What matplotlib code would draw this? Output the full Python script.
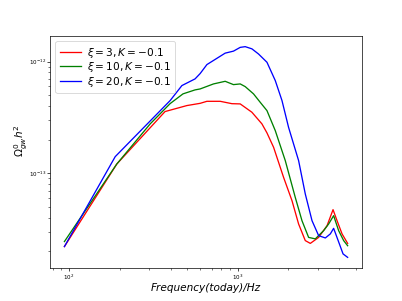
import numpy as np
import matplotlib
matplotlib.use('Agg')
import matplotlib.pyplot as plt

# frequency (Hz) and Omega_gw h^2
freq_xi3 = [94, 192, 371, 500, 599, 657, 788, 924, 1035, 1214, 1392, 1491,
            1632, 1870, 2098, 2296, 2515, 2694, 3017, 3385, 3673, 3879, 4154, 4483]
omega_xi3 = [2.21e-14, 1.21e-13, 3.57e-13, 4.04e-13, 4.23e-13, 4.41e-13, 4.41e-13,
             4.20e-13, 4.18e-13, 3.52e-13, 2.77e-13, 2.30e-13,
             1.71e-13, 9.21e-14, 5.69e-14, 3.52e-14, 2.50e-14, 2.36e-14, 2.67e-14,
             3.40e-14, 4.73e-14, 3.77e-14, 2.87e-14, 2.36e-14]

freq_xi10 = [94, 192, 303, 398, 474, 559, 599, 719, 843, 944, 1035, 1108, 1241,
             1360, 1491, 1670, 1914, 2194, 2404, 2632, 2884, 3231, 3459, 3703,
             3965, 4246, 4483]
omega_xi10 = [2.45e-14, 1.21e-13, 2.77e-13, 4.21e-13, 5.14e-13, 5.58e-13, 5.69e-13,
              6.31e-13, 6.66e-13, 6.22e-13, 6.31e-13, 5.97e-13, 5.14e-13,
              4.32e-13, 3.64e-13, 2.41e-13, 1.30e-13, 6.09e-14, 3.77e-14, 2.67e-14,
              2.59e-14, 3.07e-14, 3.52e-14, 4.18e-14,
              3.07e-14, 2.50e-14, 2.25e-14]

freq_xi20 = [94, 188, 398, 467, 559, 599, 657, 843, 944, 1035, 1108, 1214, 1328,
             1491, 1670, 1830, 2002, 2296, 2515, 2757, 3017, 3307, 3540, 3703,
             3842, 4020, 4211, 4483]
omega_xi20 = [2.21e-14, 1.41e-13, 4.48e-13, 6.10e-13, 7.00e-13, 7.81e-13, 9.40e-13,
              1.19e-12, 1.24e-12, 1.34e-12, 1.36e-12, 1.30e-12, 1.17e-12,
              9.86e-13, 6.76e-13, 4.48e-13, 2.58e-13, 1.30e-13, 6.54e-14, 3.77e-14,
              2.77e-14, 2.64e-14, 2.87e-14, 3.22e-14,
              2.77e-14, 2.30e-14, 1.90e-14, 1.77e-14]

labels = [r'$\xi=3,K=-0.1$', r'$\xi=10,K=-0.1$', r'$\xi=20,K=-0.1$']

fig, ax = plt.subplots(figsize=(402 / 62.8, 301 / 62.8), dpi=62.8)

ax.plot(freq_xi3, omega_xi3, color='red', label=labels[0])
ax.plot(freq_xi10, omega_xi10, color='green', label=labels[1])
ax.plot(freq_xi20, omega_xi20, color='blue', label=labels[2])

ax.set_xscale('log')
ax.set_yscale('log')
ax.set_xlabel('Frequency(today)/Hz', fontsize=12, style='italic', labelpad=2)
ax.set_ylabel(r'$\Omega^0_{gw}h^2$', fontsize=12)
ax.yaxis.set_label_coords(-0.065, 0.55)
ax.tick_params(labelsize=6.5, pad=1.5)
ax.legend(loc='upper left', fontsize=12, labelspacing=0.05, handletextpad=0.6)

plt.savefig('out.png', dpi=62.8)
